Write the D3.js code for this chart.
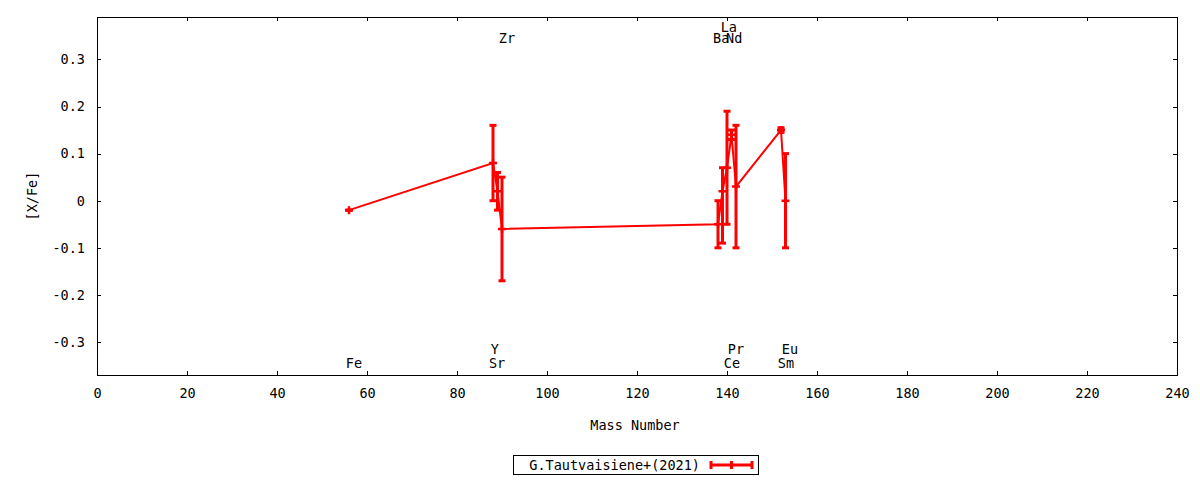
<!DOCTYPE html>
<html><head><meta charset="utf-8">
<script src="https://cdn.jsdelivr.net/npm/d3@7"></script>
<style>
body{margin:0;background:#fff}
text{font-family:"DejaVu Sans Mono","Liberation Mono",monospace;font-size:13.5px;fill:#000}
</style>
</head><body><svg id="c" width="1200" height="480"></svg>
<script>
// ---- data ----
const elements   = ["Fe","Sr","Y","Zr","Ba","La","Ce","Pr","Nd","Sm","Eu"];
const massNumber = [56, 88, 89, 90, 138, 139, 140, 141, 142, 152, 153];
const abundance  = [-0.02, 0.08, 0.02, -0.06, -0.05, 0.02, 0.07, 0.14, 0.03, 0.15, 0.00];
const errLow     = [0.00, 0.08, 0.04, 0.11, 0.05, 0.11, 0.12, 0.01, 0.13, 0.005, 0.10];
const errHigh    = [0.00, 0.08, 0.04, 0.11, 0.05, 0.05, 0.12, 0.01, 0.13, 0.005, 0.10];
// element label anchors (mass units) and label rows
const labelMass  = [57.1, 88.9, 88.4, 91.1, 138.7, 140.4, 141.1, 142.0, 141.6, 153.1, 154.0];
const labelRow   = ["bottom1","bottom1","bottom2","top1","top1","top2","bottom1","bottom2","top1","bottom1","bottom2"];
const xTicks = [0,20,40,60,80,100,120,140,160,180,200,220,240];
const yTicks = [-0.3,-0.2,-0.1,0,0.1,0.2,0.3];
const yTickLabels = ["-0.3","-0.2","-0.1","0","0.1","0.2","0.3"];
const seriesName = "G.Tautvaisiene+(2021)";
const xTitle = "Mass Number";
const yTitle = "[X/Fe]";

// ---- layout ----
const L = 97, R = 1177, T = 17, B = 375;
const red = "#ff0000";
const svg = d3.select("#c");
const x = d3.scaleLinear().domain([0,240]).range([L,R]);
const y = d3.scaleLinear().domain([-0.37,0.39]).range([B,T]);
const rowValue = {top1:0.345, top2:0.368, bottom2:-0.314, bottom1:-0.344};

// frame
svg.append("rect").attr("x",L).attr("y",T).attr("width",R-L).attr("height",B-T)
  .attr("fill","none").attr("stroke","#000").attr("stroke-width",1).attr("shape-rendering","crispEdges");

function styleAxis(g, showText){
  g.select(".domain").remove();
  g.selectAll(".tick line").attr("stroke","#000").attr("shape-rendering","crispEdges");
  if(!showText) g.selectAll(".tick text").remove();
  g.selectAll(".tick text").attr("fill","#000");
}
const gb = svg.append("g").attr("transform",`translate(0,${B})`)
  .call(d3.axisBottom(x).tickValues(xTicks).tickSize(-4).tickPadding(13).tickFormat(d3.format("d")));
styleAxis(gb,true);
const gt = svg.append("g").attr("transform",`translate(0,${T})`)
  .call(d3.axisTop(x).tickValues(xTicks).tickSize(-4));
styleAxis(gt,false);
const gl = svg.append("g").attr("transform",`translate(${L},0)`)
  .call(d3.axisLeft(y).tickValues(yTicks).tickSize(-4).tickPadding(12).tickFormat((d,i)=>yTickLabels[i]));
styleAxis(gl,true);
const gr = svg.append("g").attr("transform",`translate(${R},0)`)
  .call(d3.axisRight(y).tickValues(yTicks).tickSize(-4));
styleAxis(gr,false);
svg.selectAll("g").attr("font-family",null).attr("font-size",null);

// titles
svg.append("text").attr("x",(L+R)/2-2).attr("y",425).attr("text-anchor","middle")
  .attr("dominant-baseline","central").text(xTitle);
svg.append("text").attr("transform","translate(32,196) rotate(-90)").attr("text-anchor","middle")
  .attr("dominant-baseline","central").text(yTitle);

// data
const pts = elements.map((e,i)=>({e, m:massNumber[i], v:abundance[i], lo:abundance[i]-errLow[i], hi:abundance[i]+errHigh[i]}));
const plot = svg.append("g");
plot.append("path").datum(pts)
  .attr("d", d3.line().x(d=>x(d.m)).y(d=>y(d.v)))
  .attr("fill","none").attr("stroke",red).attr("stroke-width",2);
const cw = 3.5, pm = 4;
const eb = plot.selectAll("g.eb").data(pts).join("g").attr("class","eb");
eb.append("line").attr("x1",d=>x(d.m)).attr("x2",d=>x(d.m)).attr("y1",d=>y(d.lo)).attr("y2",d=>y(d.hi))
  .attr("stroke",red).attr("stroke-width",3);
eb.append("line").attr("x1",d=>x(d.m)-cw).attr("x2",d=>x(d.m)+cw).attr("y1",d=>y(d.lo)).attr("y2",d=>y(d.lo))
  .attr("stroke",red).attr("stroke-width",3);
eb.append("line").attr("x1",d=>x(d.m)-cw).attr("x2",d=>x(d.m)+cw).attr("y1",d=>y(d.hi)).attr("y2",d=>y(d.hi))
  .attr("stroke",red).attr("stroke-width",3);
eb.append("path").attr("d",d=>`M${x(d.m)-pm},${y(d.v)}H${x(d.m)+pm}M${x(d.m)},${y(d.v)-pm}V${y(d.v)+pm}`)
  .attr("stroke",red).attr("stroke-width",2.5);

// element labels
svg.selectAll("text.el").data(elements).join("text").attr("class","el")
  .attr("x",(d,i)=>x(labelMass[i])).attr("y",(d,i)=>y(rowValue[labelRow[i]]))
  .attr("text-anchor","middle").attr("dominant-baseline","central").text(d=>d);

// legend
const lg = svg.append("g");
lg.append("rect").attr("x",513.5).attr("y",455.5).attr("width",245).attr("height",19)
  .attr("fill","#fff").attr("stroke","#000").attr("stroke-width",1);
lg.append("text").attr("x",700).attr("y",465).attr("text-anchor","end").attr("dominant-baseline","central").text(seriesName);
lg.append("line").attr("x1",711).attr("x2",752).attr("y1",465).attr("y2",465).attr("stroke",red).attr("stroke-width",3);
[711,752].forEach(px=>lg.append("line").attr("x1",px).attr("x2",px).attr("y1",461).attr("y2",469).attr("stroke",red).attr("stroke-width",3));
lg.append("path").attr("d","M731.5,461V469").attr("stroke",red).attr("stroke-width",3);
</script></body></html>
